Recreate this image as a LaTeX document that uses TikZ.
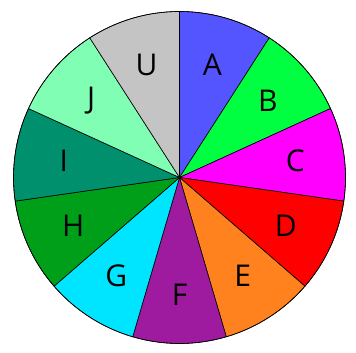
\documentclass[tikz,border=0pt]{standalone}
\usepackage{fontspec}
\setmainfont{Open Sans}
\usetikzlibrary{calc}
\begin{document}
\begin{tikzpicture}[x=1pt,y=1pt,
  slice/.style={draw=black,line width=0.6pt,line join=round},
  lbl/.style={font=\fontsize{30}{32}\selectfont,text=black,inner sep=0pt}]
\useasboundingbox (0,0) rectangle (356,353);
\coordinate (O) at (179.5,175.5);
\def\R{166}
\def\st{32.7273}
\foreach \name/\col [count=\i from 0] in {A/5555FF,B/00FF40,C/FF00FF,D/FF0000,E/FF821E,F/9E1A9E,G/00E5FF,H/009F1A,I/00906E,J/80FFB4,U/C4C4C4}{
  \definecolor{c\name}{HTML}{\col}
  \pgfmathsetmacro{\a}{90-\i*\st}
  \pgfmathsetmacro{\b}{90-(\i+1)*\st}
  \pgfmathsetmacro{\m}{90-(\i+0.5)*\st}
  \filldraw[slice,fill=c\name] (O) -- ++(\a:\R) arc[start angle=\a,end angle=\b,radius=\R] -- cycle;
  \node[lbl] (l\name) at ($(O)+(\m:117)$) {\name};
}
\draw[slice,fill=none] (O) circle[radius=\R];
\end{tikzpicture}
\end{document}
